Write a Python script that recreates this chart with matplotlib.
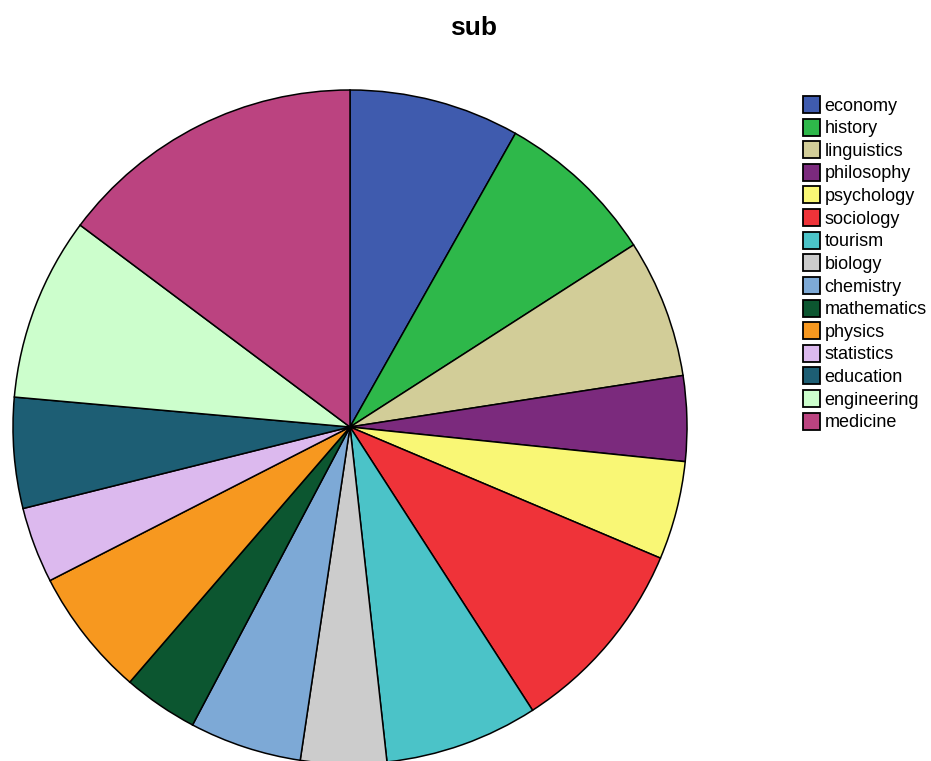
import matplotlib
matplotlib.use("Agg")
import matplotlib.pyplot as plt

plt.rcParams['font.family'] = ['Liberation Sans', 'DejaVu Sans']

# slice sizes (share of the full circle, in degrees)
subjects = ['economy', 'history', 'linguistics', 'philosophy', 'psychology',
            'sociology', 'tourism', 'biology', 'chemistry', 'mathematics',
            'physics', 'statistics', 'education', 'engineering', 'medicine']
values = [29.4, 27.9, 23.9, 14.7, 17.0, 34.3, 26.5, 14.8, 19.35, 12.95,
          22.1, 13.1, 19.1, 31.7, 53.2]
colors = ['#3F5BAE', '#2EB84A', '#D2CD98', '#7B2A7D', '#F9F775', '#EF3339',
          '#4BC3C8', '#CCCCCC', '#7DA9D6', '#0C5630', '#F7981F', '#DCB9EE',
          '#1D5E74', '#CCFECC', '#BB4380']

fig = plt.figure(figsize=(9.31, 7.61), dpi=100)

# pie centre at about (350, 427) px, radius about 337 px
cx, cy, r = 350, 427, 337
W, H = 931, 761
ax = fig.add_axes([(cx - r) / W, (H - cy - r) / H, 2 * r / W, 2 * r / H])

wedges, _ = ax.pie(values, colors=colors, startangle=90, counterclock=False,
                   wedgeprops=dict(edgecolor='black', linewidth=1.1))
for w in wedges:
    w.set_clip_on(False)
ax.set_xlim(-1, 1)
ax.set_ylim(-1, 1)
ax.set_aspect('auto')
ax.axis('off')

fig.text(474 / W, 1 - 35 / H, 'sub', ha='center', va='baseline',
         fontsize=19, fontweight='bold')

leg = fig.legend(wedges, subjects, loc='upper left',
                 bbox_to_anchor=(803 / W, 1 - 96 / H), frameon=False,
                 fontsize=13, handlelength=0.94, handleheight=1.07,
                 handletextpad=0.25, labelspacing=0.22, borderpad=0,
                 borderaxespad=0)
for p in leg.get_patches():
    p.set_linewidth(1.3)

plt.savefig('out.png', dpi=100)
